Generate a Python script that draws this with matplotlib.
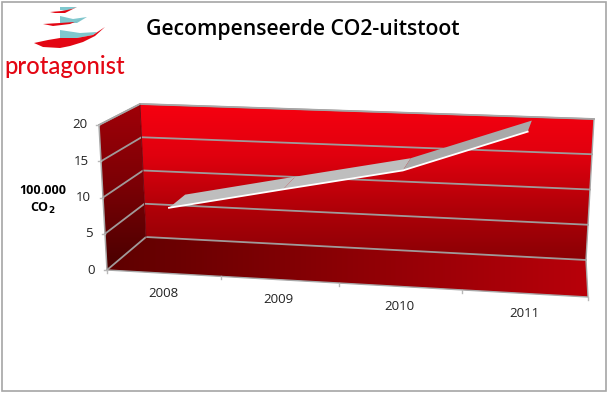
# plot.py
# Gecompenseerde CO2-uitstoot, 3D look line chart drawn on a flat pixel axes

import matplotlib
matplotlib.use('Agg')
import matplotlib.pyplot as plt
from matplotlib.colors import LinearSegmentedColormap
from matplotlib.patches import Polygon, Rectangle
import numpy as np

years = ['2008', '2009', '2010', '2011']
co2 = [8.1, 11.4, 14.7, 20.6]
y_ticks = [0, 5, 10, 15, 20]

# box corners in pixels
FRONT_BOTTOM_L = (107, 270)
FRONT_BOTTOM_R = (588, 297)
BACK_BOTTOM_L = (146, 237)
BACK_BOTTOM_R = (586, 260)
FRONT_TOP_L = (99, 125)
FRONT_TOP_R = (590, 144)
BACK_TOP_L = (140, 104)
BACK_TOP_R = (594, 119)
FRONT_TICK_U = [0, 0.237, 0.482, 0.738, 1.0]


def project(cat, value, depth):
    # cat in 0..4, value in 0..20, depth 0 front .. 1 back
    u = np.interp(cat, range(5), FRONT_TICK_U)
    v = value / 20.0
    corners = [[FRONT_BOTTOM_L, FRONT_BOTTOM_R, FRONT_TOP_L, FRONT_TOP_R],
               [BACK_BOTTOM_L, BACK_BOTTOM_R, BACK_TOP_L, BACK_TOP_R]]
    pts = []
    for fl, fr, tl, tr in corners:
        bottom = np.array(fl) * (1 - u) + np.array(fr) * u
        top = np.array(tl) * (1 - u) + np.array(tr) * u
        pts.append(bottom * (1 - v) + top * v)
    return pts[0] * (1 - depth) + pts[1] * depth


def gradient_face(ax, poly, colors, vertical=True):
    cmap = LinearSegmentedColormap.from_list('face', colors)
    xs = [p[0] for p in poly]
    ys = [p[1] for p in poly]
    grad = np.linspace(0, 1, 256)
    grad = grad.reshape(-1, 1) if vertical else grad.reshape(1, -1)
    im = ax.imshow(grad, cmap=cmap, aspect='auto', interpolation='bilinear',
                   extent=(min(xs), max(xs), max(ys), min(ys)), zorder=1)
    patch = Polygon(poly, closed=True, transform=ax.transData, facecolor='none', edgecolor='none')
    ax.add_patch(patch)
    im.set_clip_path(patch)


def main():
    fig = plt.figure(figsize=(6.10, 3.96), dpi=100)
    ax = fig.add_axes([0, 0, 1, 1])
    plt.rcParams['font.family'] = ['Open Sans', 'DejaVu Sans']

    # faces
    gradient_face(ax, [BACK_TOP_L, BACK_TOP_R, BACK_BOTTOM_R, BACK_BOTTOM_L],
                  ['#f60010', '#e0000e', '#b00008', '#8a0005'])
    gradient_face(ax, [FRONT_TOP_L, BACK_TOP_L, BACK_BOTTOM_L, FRONT_BOTTOM_L],
                  ['#a00008', '#7a0005', '#480000'])
    gradient_face(ax, [BACK_BOTTOM_L, BACK_BOTTOM_R, FRONT_BOTTOM_R, FRONT_BOTTOM_L],
                  ['#5e0000', '#8c0005', '#b8000a'], vertical=False)

    # gridlines
    grid = '#a09a9a'
    for value in y_ticks:
        a = project(0, value, 0)
        b = project(0, value, 1)
        c = project(4, value, 1)
        ax.plot([a[0], b[0], c[0]], [a[1], b[1], c[1]], color=grid, lw=1.3, zorder=2)
    ax.plot([BACK_TOP_L[0], BACK_BOTTOM_L[0]], [BACK_TOP_L[1], BACK_BOTTOM_L[1]], color='#70000a', lw=0.6, zorder=2)

    # axis lines and ticks
    ax.plot([FRONT_TOP_L[0], FRONT_BOTTOM_L[0]], [FRONT_TOP_L[1], FRONT_BOTTOM_L[1]], color='#a8a8a8', lw=1.1, zorder=3)
    ax.plot([FRONT_BOTTOM_L[0], FRONT_BOTTOM_R[0], BACK_BOTTOM_R[0], BACK_TOP_R[0], BACK_TOP_L[0], FRONT_TOP_L[0]],
            [FRONT_BOTTOM_L[1], FRONT_BOTTOM_R[1], BACK_BOTTOM_R[1], BACK_TOP_R[1], BACK_TOP_L[1], FRONT_TOP_L[1]],
            color='#a8a8a8', lw=1.0, zorder=3)
    for value in y_ticks:
        p = project(0, value, 0)
        ax.plot([p[0] - 3, p[0]], [p[1], p[1]], color='#b8b8b8', lw=1, zorder=3)
        ax.text(p[0] - 12, p[1], str(value), ha='right', va='center', fontsize=9.5, color='#222222')
    for cat in range(5):
        p = project(cat, 0, 0)
        ax.plot([p[0], p[0]], [p[1], p[1] + 3], color='#b8b8b8', lw=1, zorder=3)

    # ribbon
    cats = np.arange(len(years)) + 0.5
    front = np.array([project(c, v, 0.22) for c, v in zip(cats, co2)])
    back = np.array([project(c, v, 0.68) for c, v in zip(cats, co2)])
    shades = ['#bebebe', '#bebebe', '#a9a9a9']
    for i in range(len(years) - 1):
        poly = [front[i], front[i + 1], back[i + 1], back[i]]
        ax.add_patch(Polygon(poly, closed=True, facecolor=shades[i], edgecolor='none', zorder=4))
    ax.plot(front[:, 0], front[:, 1], color='white', lw=1.3, zorder=5, solid_joinstyle='miter')

    # category labels
    for cat, year in zip(cats, years):
        p = project(cat, 0, 0)
        ax.text(p[0] - 1, p[1] + 20, year, ha='center', va='center', fontsize=9.5, color='#222222')

    # axis title
    ax.text(43, 190, '100.000', ha='center', va='center', fontsize=9, fontweight='bold', color='black')
    ax.text(43, 208, 'CO$_\\mathbf{2}$', ha='center', va='center', fontsize=9, fontweight='bold', color='black',
            math_fontfamily='dejavusans')

    # title
    ax.text(303, 30, 'Gecompenseerde CO2-uitstoot', ha='center', va='center', fontsize=15.3,
            fontweight='semibold', color='black', family='Open Sans')

    # logo
    teal = '#7fc8ce'
    red = '#e30613'
    shapes = [
        (teal, [(60, 7), (77, 7), (67, 11), (60, 10)]),
        (red, [(50, 12), (62, 11), (72, 9), (77, 7), (65, 13), (55, 13)]),
        (teal, [(60, 16), (73, 19), (87, 17), (77, 23), (60, 23)]),
        (red, [(43, 24), (60, 23), (75, 22), (87, 17), (70, 24), (53, 26)]),
        (teal, [(60, 30), (80, 33), (97, 32), (104, 27), (93, 35), (77, 38), (60, 38)]),
        (red, [(34, 43), (48, 40), (60, 38), (77, 38), (93, 35), (105, 27), (95, 36), (83, 42), (70, 46), (60, 48), (43, 47)]),
    ]
    for color, pts in shapes:
        ax.add_patch(Polygon(pts, closed=True, facecolor=color, edgecolor='none'))
    ax.text(65, 66, 'protagonist', ha='center', va='center', fontsize=17.2, color=red, family='Lato',
            fontweight='medium')

    # slide border
    ax.add_patch(Rectangle((2, 2), 604, 389, facecolor='none', edgecolor='#a6a6a6', lw=1.2, zorder=6))

    ax.set_xlim(0, 610)
    ax.set_ylim(396, 0)
    ax.axis('off')
    fig.savefig('out.png', dpi=100)


if __name__ == '__main__':
    main()
